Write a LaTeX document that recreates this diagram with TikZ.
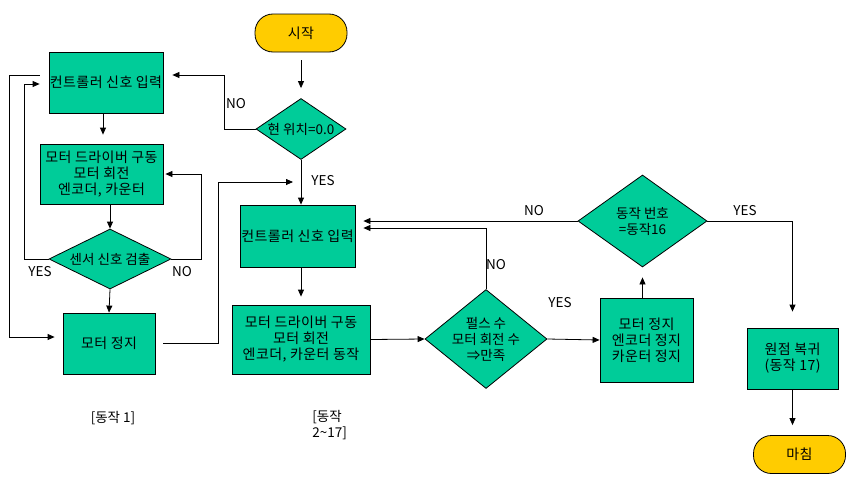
\documentclass[tikz,border=0pt]{standalone}
\usepackage{fontspec}
\setmainfont{Noto Sans CJK KR}
\newfontfamily\krbox[LetterSpace=3]{Noto Sans CJK KR}
\usepackage{tikz}
\usepackage{xcolor}
\usetikzlibrary{shapes.geometric,arrows.meta}
\definecolor{boxgreen}{RGB}{0,204,153}
\definecolor{termyellow}{RGB}{255,204,0}

\begin{document}
\begin{tikzpicture}[x=1pt, y=-1pt, line width=0.8pt,
    >={Triangle[length=7pt,width=6pt]},
    box/.style={draw, fill=boxgreen, inner sep=0pt, align=center,
        font=\krbox\fontsize{14}{16}\selectfont},
    decision/.style={draw, fill=boxgreen, diamond, inner sep=0pt, align=center,
        font=\fontsize{13.5}{16}\selectfont},
    terminal/.style={draw, fill=termyellow, rounded corners=18pt,
        minimum width=92pt, minimum height=38pt, font=\krbox\fontsize{14}{16}\selectfont},
    lbl/.style={inner sep=1pt, font=\fontsize{13.5}{16}\selectfont}]
    \useasboundingbox (0,0) rectangle (853,479);

    % start and first check
    \node[terminal] (start) at (301,33) {시작};
    \node[decision, aspect=1.5, inner sep=-2pt, minimum width=90pt, minimum height=61pt] (pos) at (301,129) {현 위치=0.0};

    % motion 1
    \node[box, minimum width=114pt, minimum height=61pt] (ctrl1) at (106,82.5) {컨트롤러 신호 입력};
    \node[box, minimum width=123pt, minimum height=60pt] (drive1) at (101.5,174) {모터 드라이버 구동\\모터 회전\\엔코더, 카운터};
    \node[decision, aspect=2, minimum width=122pt, minimum height=60pt] (sensor) at (110,259) {센서 신호 검출};
    \node[box, minimum width=92pt, minimum height=61pt] (stop1) at (109,343.5) {모터 정지};

    % motion 2~17
    \node[box, minimum width=115pt, minimum height=62pt] (ctrl2) at (297.5,236) {컨트롤러 신호 입력};
    \node[box, minimum width=138pt, minimum height=69pt] (drive2) at (301,339.5) {모터 드라이버 구동\\모터 회전\\엔코더, 카운터 동작};
    \node[decision, aspect=1.23, inner sep=-6pt, minimum width=122pt, minimum height=99pt] (pulse) at (486,339) {펄스 수\\모터 회전 수\\⇒만족};
    \node[box, minimum width=93pt, minimum height=84pt] (stop2) at (646.5,340) {모터 정지\\엔코더 정지\\카운터 정지};
    \node[decision, aspect=1.4, minimum width=129pt, minimum height=92pt] (num) at (642.5,221) {동작 번호\\=동작16};

    % homing and end
    \node[box, minimum width=91pt, minimum height=61pt] (home) at (792.5,358.5) {원점 복귀\\(동작 17)};
    \node[terminal] (finish) at (799.5,454.5) {마침};

    % arrows, motion 1
    \draw[->, shorten <=8pt, shorten >=10pt] (start) -- (pos);
    \draw[->, shorten >=9pt] (pos.west) -- ++(-31,0) |- ([yshift=7.5pt]ctrl1.east);
    \draw[->, shorten >=9pt] ([xshift=-3pt]ctrl1.south) -- ([xshift=-3pt]ctrl1.south |- drive1.north);
    \draw[->] (drive1.south -| sensor.north) -- (sensor.north);
    \draw[->, shorten >=9pt] (sensor.west) -- ++(-24,0) |- ([yshift=-1.5pt]ctrl1.west);
    \draw[->, shorten >=2pt] (sensor.east) -- ++(30,0) |- (drive1.east);
    \draw[->, shorten <=9pt, shorten >=8pt] ([yshift=7.5pt]ctrl1.west) -- ++(-39,0) |- ([yshift=6.5pt]stop1.west);
    \draw[->] (sensor.south) -- (stop1.north);
    \coordinate (join) at (301,182);
    \draw[->, shorten <=8pt, shorten >=8pt] (stop1.east) -- ++(63,0) |- (join);

    % arrows, motion 2~17
    \draw[->] (pos.south) -- (pos.south |- ctrl2.north);
    \draw[->, shorten >=8pt] (ctrl2.south -| drive2.north) -- (drive2.north);
    \draw[->] (drive2.east) -- (pulse.west);
    \draw[->, shorten >=8pt] (pulse.north) |- ([yshift=8pt]ctrl2.east);
    \draw[->] (pulse.east) -- (stop2.west);
    \draw[->, shorten >=10pt] (stop2.north -| num.south) -- (num.south);
    \draw[->, shorten >=8pt] (num.west) -- (num.west -| ctrl2.east);
    \draw[->, shorten >=16pt] (num.east) -| (home.north);
    \draw[->, shorten >=10pt] (home.south) -- (home.south |- finish.north);

    % branch labels
    \node[lbl] (no1) at (236,104) {NO};
    \node[lbl] (yes1) at (323,181) {YES};
    \node[lbl] (yes2) at (40,272) {YES};
    \node[lbl] (no2) at (182,272) {NO};
    \node[lbl] (no3) at (496,265) {NO};
    \node[lbl] (yes3) at (560,303) {YES};
    \node[lbl] (no4) at (534,211) {NO};
    \node[lbl] (yes4) at (745,211) {YES};

    % captions
    \node[lbl] (cap1) at (113,418) {[동작 1]};
    \node[lbl, align=left, anchor=west] (cap2) at (311,425) {[동작\\2\textasciitilde17]};
\end{tikzpicture}
\end{document}
